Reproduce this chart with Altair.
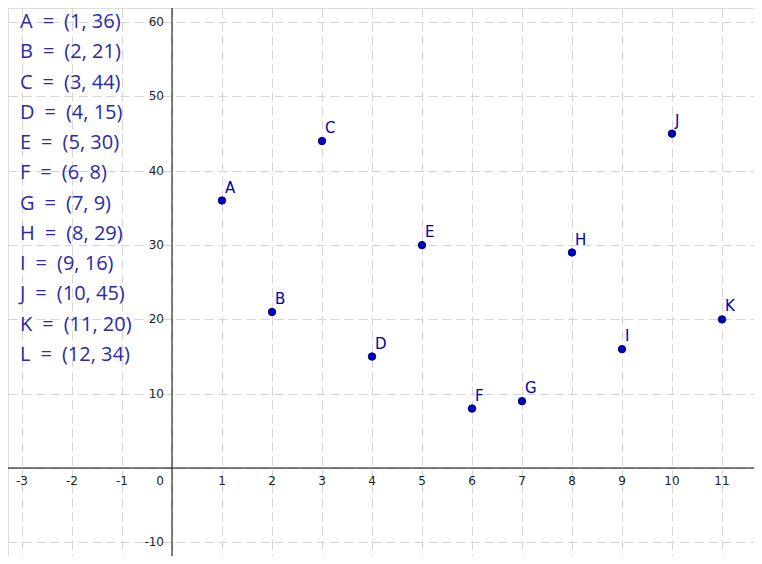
import altair as alt
import pandas as pd

names = ["A", "B", "C", "D", "E", "F", "G", "H", "I", "J", "K", "L"]
xs = [1, 2, 3, 4, 5, 6, 7, 8, 9, 10, 11, 12]
ys = [36, 21, 44, 15, 30, 8, 9, 29, 16, 45, 20, 34]
x_ticks = [-3, -2, -1, 1, 2, 3, 4, 5, 6, 7, 8, 9, 10, 11]
y_ticks = [-10, 10, 20, 30, 40, 50, 60]
x_grid = list(range(-3, 12))
y_grid = [-10, 0, 10, 20, 30, 40, 50, 60]

pts = pd.DataFrame({"name": names, "x": xs, "y": ys})
pts["label"] = [f"{n}\u2002=\u2002({a}, {b})" for n, a, b in zip(names, xs, ys)]

xs_scale = alt.Scale(domain=[-3.28, 11.64], nice=False, zero=False)
ys_scale = alt.Scale(domain=[-11.84, 61.91], nice=False, zero=False)

grid_x = alt.Axis(values=x_grid, grid=True, labels=False, ticks=False, domain=False,
                  gridDash=[9, 5], gridColor="#d4d4d4", gridWidth=1, title=None)
grid_y = alt.Axis(values=y_grid, grid=True, labels=False, ticks=False, domain=False,
                  gridDash=[9, 5], gridColor="#d4d4d4", gridWidth=1, title=None)

base = alt.Chart(pts)

points = base.mark_point(filled=True, size=55, color="#0000cc", stroke="#000055",
                         strokeWidth=1, opacity=1, clip=True).encode(
    x=alt.X("x:Q", scale=xs_scale, axis=grid_x),
    y=alt.Y("y:Q", scale=ys_scale, axis=grid_y),
)

plabels = base.mark_text(align="left", baseline="bottom", dx=3, dy=-5, fontSize=15,
                         font="DejaVu Sans", color="#0000aa", clip=True).encode(
    x=alt.X("x:Q", scale=xs_scale),
    y=alt.Y("y:Q", scale=ys_scale),
    text="name:N",
)

xaxis_line = alt.Chart(pd.DataFrame({"v": [0]})).mark_rule(color="black", strokeWidth=1).encode(
    y=alt.Y("v:Q", scale=ys_scale))
yaxis_line = alt.Chart(pd.DataFrame({"v": [0]})).mark_rule(color="black", strokeWidth=1).encode(
    x=alt.X("v:Q", scale=xs_scale))

xt = pd.DataFrame({"t": x_ticks, "z": [0] * len(x_ticks)})
xt["s"] = xt["t"].astype(str)
xtick_text = alt.Chart(xt).mark_text(baseline="middle", align="center", dy=13, fontSize=12,
                                     font="DejaVu Sans", color="#222222").encode(
    x=alt.X("t:Q", scale=xs_scale), y=alt.Y("z:Q", scale=ys_scale), text="s:N")

yt = pd.DataFrame({"t": y_ticks, "z": [0] * len(y_ticks)})
yt["s"] = yt["t"].astype(str)
ytick_text = alt.Chart(yt).mark_text(baseline="middle", align="right", dx=-8, fontSize=12,
                                     font="DejaVu Sans", color="#222222").encode(
    x=alt.X("z:Q", scale=xs_scale), y=alt.Y("t:Q", scale=ys_scale), text="s:N")

origin = alt.Chart(pd.DataFrame({"t": [0], "s": ["0"]})).mark_text(
    baseline="middle", align="right", dx=-8, dy=13,
    fontSize=12, font="DejaVu Sans", color="#222222").encode(
    x=alt.X("t:Q", scale=xs_scale), y=alt.Y("t:Q", scale=ys_scale), text="s:N")

listing = base.mark_text(align="left", baseline="middle", fontSize=20, font="Open Sans",
                         color="#2a2aa8").encode(
    x=alt.value(12),
    y=alt.Y("name:N", scale=alt.Scale(type="point", range=[14, 347], padding=0), axis=None, sort=names),
    text="label:N",
)

main = alt.layer(points, xaxis_line, yaxis_line, xtick_text, ytick_text, origin, plabels)

chart = alt.layer(main, listing).resolve_scale(y="independent").properties(
    width=746, height=548, padding=0, autosize="none"
).configure_view(stroke=None).configure(background="white")

chart.save("out.html", embed_options={"renderer": "svg", "actions": False})
